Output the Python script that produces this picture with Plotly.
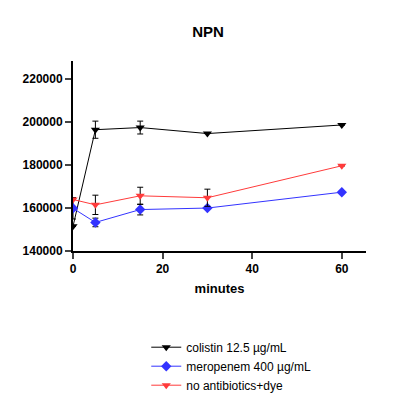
import plotly.graph_objects as go

minutes = [0, 5, 15, 30, 60]
colistin = [151500, 196500, 197500, 194700, 198700]
colistin_err = [0, 4000, 3000, 0, 0]
meropenem = [159900, 153300, 159300, 160000, 167400]
meropenem_err = [5000, 2000, 2500, 0, 0]
no_ab = [164000, 161500, 165700, 164800, 179700]
no_ab_err = [0, 4500, 4000, 4000, 0]

series = [
    ("colistin 12.5 µg/mL", colistin, colistin_err, "black", "triangle-down"),
    ("meropenem 400 µg/mL", meropenem, meropenem_err, "#3333ff", "diamond"),
    ("no antibiotics+dye", no_ab, no_ab_err, "#ff3b3b", "triangle-down"),
]

fig = go.Figure()
for name, y, err, col, sym in series:
    fig.add_trace(go.Scatter(x=minutes, y=y, name=name, mode='lines+markers',
                             line=dict(color=col, width=1),
                             marker=dict(color=col, symbol=sym, size=8),
                             error_y=dict(type='data', array=err, color='black', thickness=1, width=3)))

fig.update_layout(
    width=400, height=418, plot_bgcolor='white', paper_bgcolor='white',
    margin=dict(l=65, r=42, t=53, b=175),
    font=dict(family='Liberation Sans, Arial', color='black', size=12),
    title=dict(text='<b>NPN</b>', x=0.5, y=0.955, xanchor='center', font=dict(size=15)),
    xaxis=dict(title=dict(text='<b>minutes</b>', font=dict(size=13), standoff=8), range=[0, 65.4],
               tickvals=[0, 20, 40, 60], ticks='outside', ticklen=6, tickwidth=2,
               showline=True, linewidth=2, linecolor='black', showgrid=False, zeroline=False,
               tickfont=dict(size=12, weight='bold')),
    yaxis=dict(range=[140000, 228500], tickvals=[140000, 160000, 180000, 200000, 220000],
               ticks='outside', ticklen=6, tickwidth=2, showline=True, linewidth=2,
               linecolor='black', showgrid=False, zeroline=False, tickformat='d',
               automargin=False, tickfont=dict(size=12, weight='bold')),
    legend=dict(x=0.25, y=-0.43, yanchor='top', xanchor='left', tracegroupgap=6,
                font=dict(size=12)),
)

fig.write_html("out.html")
